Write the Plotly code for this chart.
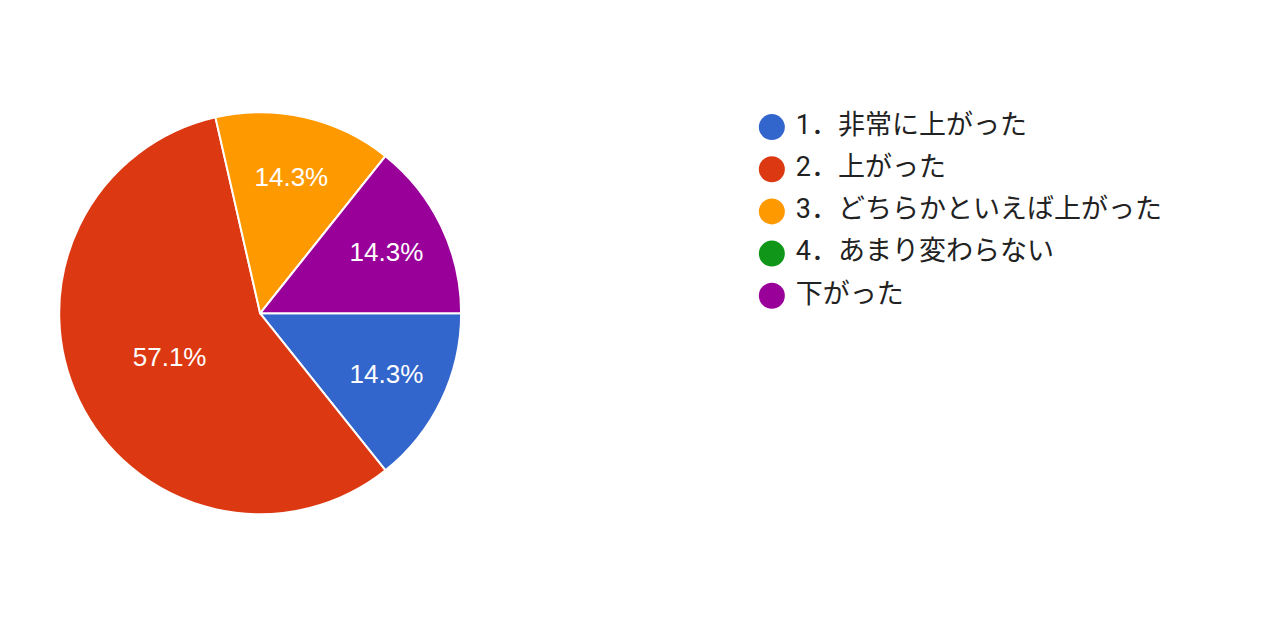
import plotly.graph_objects as go

# answer categories and counts (7 responses)
labels = ["1．非常に上がった", "2．上がった", "3．どちらかといえば上がった",
          "4．あまり変わらない", "下がった"]
counts = [1, 4, 1, 0, 1]
colors = ["#3366cc", "#dc3912", "#ff9900", "#109618", "#990099"]
rows = [0, 1, 2, 3, 4]

fig = go.Figure()

fig.add_trace(go.Pie(
    labels=labels,
    values=counts,
    sort=False,
    direction="clockwise",
    rotation=90,
    marker=dict(colors=colors, line=dict(color="white", width=2)),
    textinfo="percent",
    textposition="inside",
    insidetextfont=dict(color="white", size=26, family="Arial, Liberation Sans"),
    domain=dict(x=[0.039, 0.355], y=[0.209, 0.837]),
    showlegend=False,
))

# custom legend with round markers
fig.add_trace(go.Scatter(
    x=[0] * len(labels),
    y=rows,
    mode="markers+text",
    marker=dict(size=26, color=colors, symbol="circle"),
    text=[" " + s for s in labels],
    textposition="middle right",
    textfont=dict(size=27, color="#222222", family="Roboto, Noto Sans CJK JP"),
    cliponaxis=False,
    showlegend=False,
    hoverinfo="skip",
    xaxis="x",
    yaxis="y",
))

fig.update_layout(
    width=1280,
    height=640,
    margin=dict(l=0, r=0, t=0, b=0),
    paper_bgcolor="white",
    plot_bgcolor="white",
    xaxis=dict(domain=[0.54375, 0.64975], range=[-1, 1], visible=False, fixedrange=True),
    yaxis=dict(domain=[0.5174, 0.8469], range=[4.5, -0.5], visible=False, fixedrange=True),
)

fig.write_html("out.html")
